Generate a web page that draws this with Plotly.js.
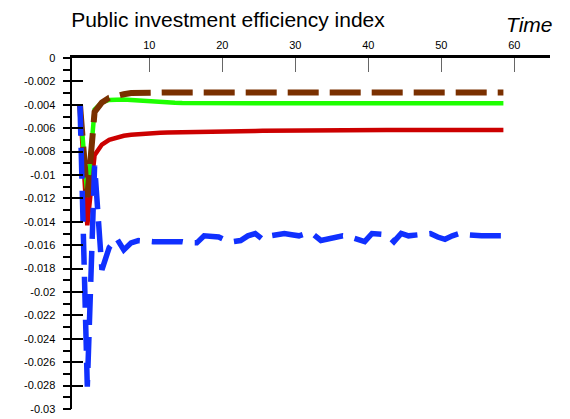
<!DOCTYPE html>
<html>
<head>
<meta charset="utf-8">
<script src="https://cdn.plot.ly/plotly-3.0.1.min.js"></script>
<style>html,body{margin:0;padding:0;background:#fff;}#chart{width:570px;height:419px;}</style>
</head>
<body>
<div id="chart"></div>
<script>
// Time periods
const periods = Array.from({length: 59}, (_, i) => i + 1);

// Series values
const brownSeries = [-0.0040,-0.0119,-0.0046,-0.0038,-0.0034,-0.0032,-0.0031,-0.0030,-0.00297,-0.00296,
  -0.00295,-0.00295,-0.00295,-0.00295,-0.00295,-0.00295,-0.00295,-0.00295,-0.00295,-0.00295,
  -0.00295,-0.00295,-0.00295,-0.00295,-0.00295,-0.00295,-0.00295,-0.00295,-0.00295,-0.00295,
  -0.00295,-0.00295,-0.00295,-0.00295,-0.00295,-0.00295,-0.00295,-0.00295,-0.00295,-0.00295,
  -0.00295,-0.00295,-0.00295,-0.00295,-0.00295,-0.00295,-0.00295,-0.00295,-0.00295,-0.00295,
  -0.00295,-0.00295,-0.00295,-0.00295,-0.00295,-0.00295,-0.00295,-0.00295,-0.00295];

const greenSeries = [-0.0040,-0.0117,-0.0044,-0.0038,-0.00358,-0.00354,-0.00355,-0.00359,-0.00364,-0.0037,
  -0.00374,-0.00378,-0.00381,-0.00383,-0.00385,-0.00386,-0.00387,-0.00387,-0.00387,-0.00387,
  -0.00387,-0.00387,-0.00387,-0.00387,-0.00387,-0.00387,-0.00387,-0.00387,-0.00387,-0.00387,
  -0.00387,-0.00387,-0.00387,-0.00387,-0.00387,-0.00387,-0.00387,-0.00387,-0.00387,-0.00387,
  -0.00387,-0.00387,-0.00387,-0.00387,-0.00387,-0.00387,-0.00387,-0.00387,-0.00387,-0.00387,
  -0.00387,-0.00387,-0.00387,-0.00387,-0.00387,-0.00387,-0.00387,-0.00387,-0.00387];

const redSeries = [-0.0040,-0.0143,-0.0083,-0.0074,-0.0070,-0.0068,-0.00665,-0.00656,-0.0065,-0.00644,
  -0.0064,-0.00639,-0.00637,-0.00635,-0.00634,-0.00632,-0.00631,-0.0063,-0.00629,-0.00628,
  -0.00627,-0.00626,-0.00625,-0.00624,-0.00623,-0.00622,-0.00621,-0.0062,-0.0062,-0.00619,
  -0.00619,-0.00618,-0.00618,-0.00617,-0.00617,-0.00616,-0.00616,-0.00616,-0.00615,-0.00615,
  -0.00615,-0.00615,-0.00615,-0.00615,-0.00615,-0.00615,-0.00615,-0.00615,-0.00615,-0.00615,
  -0.00615,-0.00615,-0.00615,-0.00615,-0.00615,-0.00615,-0.00615,-0.00615,-0.00615];

const blueSeries = [-0.0040,-0.0281,-0.0092,-0.0181,-0.0162,-0.0154,-0.0164,-0.0158,-0.0156,-0.0157,
  -0.0157,-0.0157,-0.0157,-0.0156,-0.0157,-0.0158,-0.0158,-0.0152,-0.0153,-0.0153,
  -0.0156,-0.0157,-0.0156,-0.0152,-0.0150,-0.0155,-0.0152,-0.0151,-0.0150,-0.0151,
  -0.0152,-0.0150,-0.0151,-0.0156,-0.0155,-0.0153,-0.0152,-0.0153,-0.0155,-0.0157,
  -0.0150,-0.0151,-0.0151,-0.0157,-0.0150,-0.0152,-0.0151,-0.0150,-0.0150,-0.0153,
  -0.0155,-0.0152,-0.0150,-0.0151,-0.0152,-0.0152,-0.0152,-0.0152,-0.0152];

// Tick labels
const xTickLabels = ['10','20','30','40','50','60'];
const yTickValues = [0,-0.002,-0.004,-0.006,-0.008,-0.01,-0.012,-0.014,-0.016,-0.018,-0.02,-0.022,-0.024,-0.026,-0.028,-0.03];
const yTickLabels = ['0','-0.002','-0.004','-0.006','-0.008','-0.01','-0.012','-0.014','-0.016','-0.018','-0.02','-0.022','-0.024','-0.026','-0.028','-0.03'];

const FONT = 'Arial, "Liberation Sans", sans-serif';

const traces = [
  {x: periods, y: redSeries, type: 'scatter', mode: 'lines', yaxis: 'y',
   line: {color: '#cc0000', width: 4.5}, hoverinfo: 'skip'},
  {x: periods, y: greenSeries, type: 'scatter', mode: 'lines', yaxis: 'y2',
   line: {color: '#1eff00', width: 4.5}, hoverinfo: 'skip'},
  {x: periods, y: brownSeries, type: 'scatter', mode: 'lines', yaxis: 'y2',
   line: {color: '#7a3000', width: 6, dash: '31px,11px'}, hoverinfo: 'skip'},
  {x: periods, y: blueSeries, type: 'scatter', mode: 'lines', yaxis: 'y2',
   line: {color: '#1030ff', width: 5.5, dash: '31px,12px'}, hoverinfo: 'skip'}
];

const layout = {
  width: 570, height: 419,
  margin: {l: 72, r: 20, t: 58, b: 10},
  paper_bgcolor: '#fff', plot_bgcolor: '#fff',
  showlegend: false,
  font: {family: FONT, color: '#000', size: 11},
  title: {text: 'Public investment efficiency index', font: {family: FONT, size: 21, color: '#000'},
          x: 228/570, xanchor: 'center', xref: 'container', y: 1 - 20/419, yanchor: 'middle', yref: 'container'},
  xaxis: {
    side: 'top', anchor: 'y',
    range: [1 - 8/7.3, 1 + 470/7.3],
    showline: true, linewidth: 3, linecolor: '#000',
    ticks: 'inside', ticklen: 14, tickwidth: 1, tickcolor: '#666',
    tickmode: 'array', tickvals: xTickLabels.map(v => Number(v) + 0.5), ticktext: xTickLabels,
    tickfont: {family: FONT, size: 11, color: '#000'},
    ticklabelstandoff: 2,
    showgrid: false, zeroline: false, fixedrange: true
  },
  yaxis: {
    range: [-0.03, 0],
    showline: true, linewidth: 2.5, linecolor: '#000',
    ticks: 'inside', ticklen: 11, tickwidth: 2, tickcolor: '#000',
    tickmode: 'array', tickvals: yTickValues, ticktext: yTickLabels,
    tickfont: {family: FONT, size: 11, color: '#000'},
    ticklabelstandoff: 12,
    showgrid: false, zeroline: false, fixedrange: true
  },
  yaxis2: {
    overlaying: 'y', side: 'left', anchor: 'x',
    range: [-0.03, 0],
    showline: false,
    ticks: 'outside', ticklen: 8, tickwidth: 2, tickcolor: '#000',
    tickmode: 'linear', tick0: 0, dtick: 0.001,
    showticklabels: false,
    showgrid: false, zeroline: false, fixedrange: true
  },
  annotations: [
    {text: '<i>Time</i>', xref: 'paper', yref: 'paper', x: (529 - 72)/478, y: 1 + (58 - 25)/351,
     xanchor: 'center', yanchor: 'middle', showarrow: false,
     font: {family: FONT, size: 21, color: '#000'}}
  ]
};

Plotly.newPlot('chart', traces, layout, {staticPlot: true, displayModeBar: false});
</script>
</body>
</html>
